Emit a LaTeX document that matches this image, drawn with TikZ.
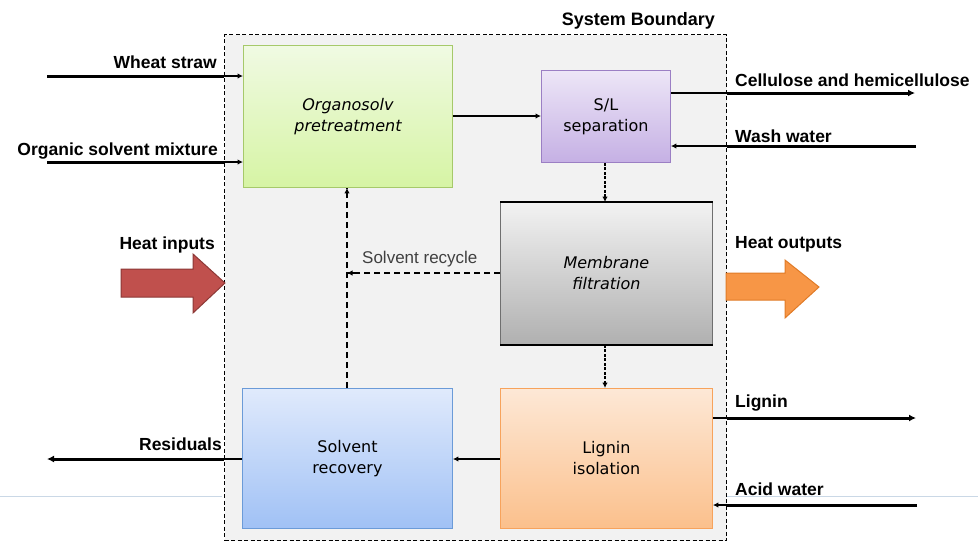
\documentclass[tikz,border=0pt]{standalone}
\usepackage{fontspec}
\setmainfont{Liberation Sans}
\newfontfamily\boxfont{DejaVu Sans}
\usetikzlibrary{arrows.meta,calc}
\definecolor{sbfill}{HTML}{F2F2F2}
\definecolor{grtop}{HTML}{F0FAE3}\definecolor{grbot}{HTML}{D6F4A4}\definecolor{grline}{HTML}{A6C96A}
\definecolor{putop}{HTML}{EDE6F7}\definecolor{pubot}{HTML}{C5B0E4}\definecolor{puline}{HTML}{9B7FC4}
\definecolor{gytop}{HTML}{F2F2F2}\definecolor{gybot}{HTML}{B0B0B0}\definecolor{gyline}{HTML}{6F6F6F}
\definecolor{ortop}{HTML}{FDE8D6}\definecolor{orbot}{HTML}{FBC08C}\definecolor{orline}{HTML}{F7A35C}
\definecolor{bltop}{HTML}{E0EAFC}\definecolor{blbot}{HTML}{A0C1F5}\definecolor{blline}{HTML}{6B9BD8}
\definecolor{heatin}{HTML}{C0504D}\definecolor{heatinline}{HTML}{8C3836}
\definecolor{heatout}{HTML}{F79646}\definecolor{heatoutline}{HTML}{E07B27}
\definecolor{faint}{HTML}{CAD8E6}
\begin{document}
\begin{tikzpicture}[x=1pt,y=-1pt,
  proc/.style={draw, line width=0.9pt, anchor=north west, align=center, inner sep=0pt,
    font=\boxfont\fontsize{16}{21}\selectfont},
  outlbl/.style={inner sep=0pt, font=\bfseries\fontsize{17.5}{20}\selectfont},
  thickln/.style={line width=3pt},
  thinln/.style={line width=1.5pt},
  tip/.style={-{Latex[length=7pt,width=7pt]}},
  smalltip/.style={-{Latex[length=5.5pt,width=5.5pt]}},
  recyc/.style={line width=2pt, dash pattern=on 6pt off 4pt},
]
\useasboundingbox (0,0) rectangle (978,542);
% faint background line
\draw[faint, line width=0.8pt] (0,496) -- (222,496) (726,496) -- (978,496);
% system boundary
\node[draw, fill=sbfill, line width=1.2pt, dash pattern=on 4pt off 2.5pt, anchor=north west,
  minimum width=502pt, minimum height=506pt, inner sep=0pt] (sb) at (224,34) {};
\node[inner sep=0pt, anchor=base east, font=\bfseries\fontsize{18}{21}\selectfont] (sbl) at (715,25) {System Boundary};
% process boxes
\node[proc, top color=grtop, bottom color=grbot, draw=grline, minimum width=209pt, minimum height=142pt] (org) at (243,45) {\itshape Organosolv\\\itshape pretreatment};
\node[proc, top color=putop, bottom color=pubot, draw=puline, minimum width=129pt, minimum height=92pt] (sl) at (541,70) {S/L\\separation};
\node[proc, top color=gytop, bottom color=gybot, draw=gyline, minimum width=212pt, minimum height=142pt] (mem) at (500,202) {\itshape Membrane\\\itshape filtration};
\draw[line width=2.2pt] (mem.south west) -- (mem.south east);
\draw[line width=1.4pt] (mem.north west) -- (mem.north east);
\node[proc, top color=ortop, bottom color=orbot, draw=orline, minimum width=212pt, minimum height=140pt] (lig) at (500,388) {Lignin\\isolation};
\node[proc, top color=bltop, bottom color=blbot, draw=blline, minimum width=210pt, minimum height=140pt] (sol) at (242,388) {Solvent\\recovery};
% inputs on the left
\coordinate (ws) at (47,76);
\draw[thickln] (ws) -- (ws -| sb.west);
\draw[thinln, smalltip] (ws -| sb.west) -- (ws -| org.west);
\node[outlbl, anchor=base east] (wsl) at (217,68) {Wheat straw};
\coordinate (os) at (47,162);
\draw[thickln] (os) -- (os -| sb.west);
\draw[thinln, smalltip] (os -| sb.west) -- (os -| org.west);
\node[outlbl, anchor=base east] (osl) at (218,155) {Organic solvent mixture};
% residuals
\coordinate (res) at (47,459);
\draw[thinln] (sol.west |- res) -- (res -| sb.west);
\draw[thickln, tip] (res -| sb.west) -- (res);
\node[outlbl, anchor=base east] (resl) at (222,450) {Residuals};
% outputs on the right
\coordinate (cel) at (915,93);
\draw[thinln] (sl.east |- cel) -- (cel -| sb.east);
\draw[thickln, tip] (cel -| sb.east) -- (cel);
\node[outlbl, anchor=base west] (cell) at (735,86) {Cellulose and hemicellulose};
\coordinate (ww) at (916,146);
\draw[thickln] (ww) -- (ww -| sb.east);
\draw[thinln, smalltip] (ww -| sb.east) -- (ww -| sl.east);
\node[outlbl, anchor=base west] (wwl) at (735,142) {Wash water};
\coordinate (lg) at (916,418);
\draw[thinln] (lig.east |- lg) -- (lg -| sb.east);
\draw[thickln, tip] (lg -| sb.east) -- (lg);
\node[outlbl, anchor=base west] (lgl) at (735,407) {Lignin};
\coordinate (aw) at (917,505);
\draw[thickln] (aw) -- (aw -| sb.east);
\draw[thinln, smalltip] (aw -| sb.east) -- (aw -| lig.east);
\node[outlbl, anchor=base west] (awl) at (735,495) {Acid water};
% internal flows
\draw[thinln, smalltip] (org.east |- 0,116) -- (sl.west |- 0,116);
\draw[line width=1.3pt, dash pattern=on 3pt off 1.5pt, smalltip] (sl.south -| 605,0) -- (mem.north -| 605,0);
\draw[line width=1.3pt, dash pattern=on 3pt off 1.5pt, smalltip] (mem.south -| 605,0) -- (lig.north -| 605,0);
\draw[thinln, smalltip] (lig.west |- 0,459) -- (sol.east |- 0,459);
% solvent recycle
\coordinate (rj) at (347,273);
\draw[recyc] (mem.west |- rj) -- (rj);
\draw[line width=1.3pt, smalltip] ($(rj)+(8,0)$) -- (rj);
\draw[recyc] (sol.north -| rj) -- (org.south -| rj);
\draw[line width=1.3pt, smalltip] ($(org.south -| rj)+(0,8)$) -- (org.south -| rj);
\node[inner sep=0pt, anchor=base west, text=black!75, font=\fontsize{17}{20}\selectfont] (rcl) at (362,263) {Solvent recycle};
% heat arrows
\draw[fill=heatin, draw=heatinline, line width=1pt] (121,269) -- (193,269) -- (193,254) -- (225,283) -- (193,313) -- (193,297) -- (121,297) -- cycle;
\node[outlbl, anchor=base east] (hil) at (215,249) {Heat inputs};
\draw[fill=heatout, draw=heatoutline, line width=1pt] (726,273) -- (785,273) -- (785,260) -- (819,287) -- (785,318) -- (785,300) -- (726,300) -- cycle;
\node[outlbl, anchor=base west] (hol) at (735,248) {Heat outputs};
\end{tikzpicture}
\end{document}
